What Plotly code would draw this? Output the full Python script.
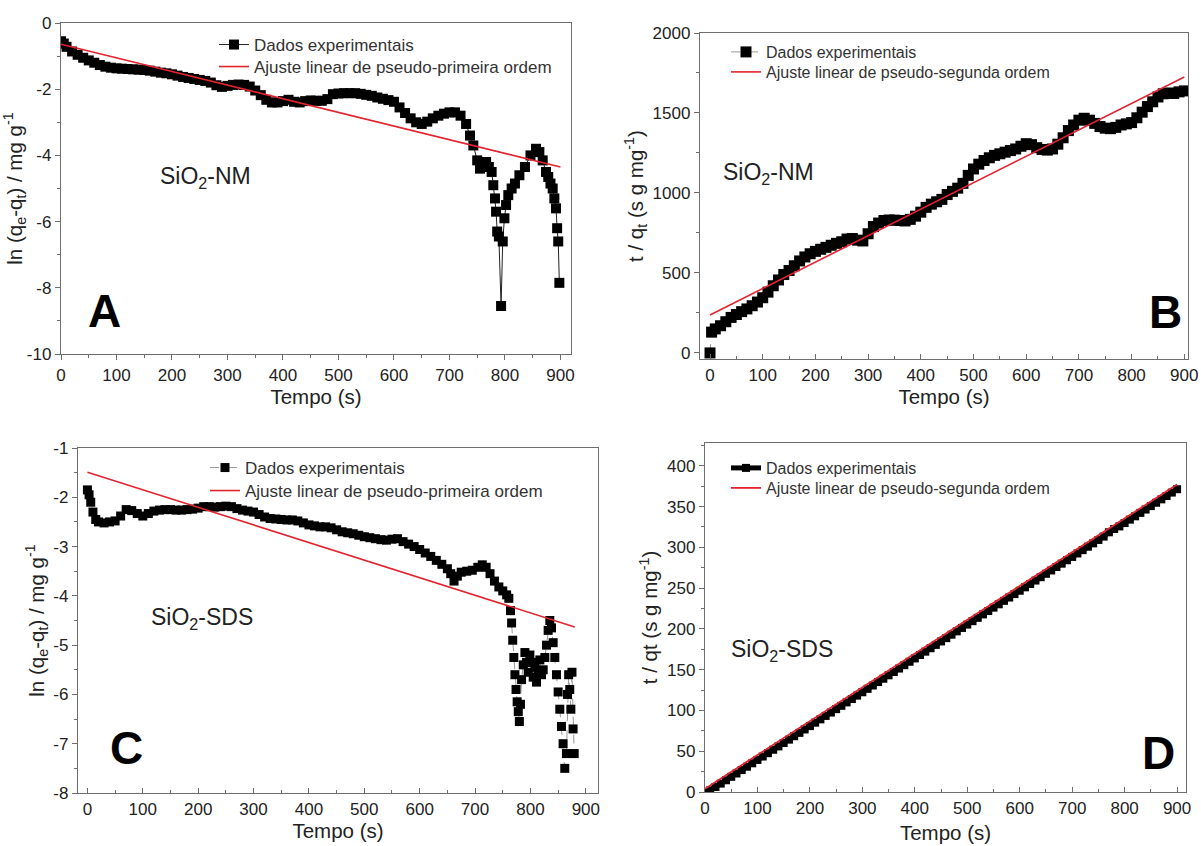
import plotly.graph_objects as go

# ---------------- Panel A : SiO2-NM, pseudo-primeira ordem ----------------
A_t = [0, 5, 10, 20, 30, 40, 50, 60, 70, 80, 90, 100, 110, 120, 130, 140, 150, 160, 170, 180,
       190, 200, 210, 220, 230, 240, 250, 260, 270, 280, 290, 300, 310, 320, 330, 340, 350, 360,
       370, 380, 390, 400, 410, 420, 430, 440, 450, 460, 470, 480, 490, 500, 510, 520, 530, 540,
       550, 560, 570, 580, 590, 600, 610, 620, 630, 640, 650, 660, 670, 680, 690, 700, 710, 720,
       730, 737, 743, 750, 755, 760, 766, 771, 776, 779, 782, 784, 786, 789, 793, 796, 799, 802,
       806, 812, 818, 826, 836, 846, 856, 862, 868, 874, 878, 882, 886, 889, 892, 894, 896, 898]
A_y = [-0.55, -0.62, -0.72, -0.86, -0.96, -1.05, -1.13, -1.2, -1.27, -1.32, -1.35, -1.37, -1.38,
       -1.39, -1.4, -1.41, -1.42, -1.44, -1.47, -1.5, -1.52, -1.55, -1.59, -1.63, -1.66, -1.69,
       -1.72, -1.75, -1.8, -1.88, -1.93, -1.9, -1.87, -1.86, -1.87, -1.92, -2.04, -2.18, -2.32,
       -2.4, -2.4, -2.36, -2.32, -2.38, -2.4, -2.36, -2.34, -2.35, -2.35, -2.3, -2.15, -2.13,
       -2.12, -2.12, -2.12, -2.14, -2.17, -2.2, -2.25, -2.29, -2.33, -2.38, -2.55, -2.72, -2.88,
       -3.0, -3.05, -2.98, -2.88, -2.8, -2.74, -2.7, -2.7, -2.8, -3.05, -3.4, -3.7, -4.15, -4.4,
       -4.3, -4.2, -4.35, -4.5, -4.9, -5.3, -5.7, -6.3, -6.45, -8.55, -6.6, -5.9, -5.5, -5.2,
       -5.0, -4.85, -4.6, -4.35, -4.0, -3.8, -3.9, -4.15, -4.5, -4.65, -4.85, -5.0, -5.3, -5.6,
       -6.2, -6.6, -7.85]
A_fit_t = [0, 900]
A_fit_y = [-0.64, -4.35]

# ---------------- Panel B : SiO2-NM, pseudo-segunda ordem ----------------
B_t = [0, 3, 10, 20, 30, 40, 50, 60, 70, 80, 90, 100, 110, 120, 130, 140, 150, 160, 170, 180,
       190, 200, 210, 220, 230, 240, 250, 260, 270, 280, 290, 300, 310, 320, 330, 340, 350, 360,
       370, 380, 390, 400, 410, 420, 430, 440, 450, 460, 470, 480, 490, 500, 510, 520, 530, 540,
       550, 560, 570, 580, 590, 600, 610, 620, 630, 640, 650, 660, 670, 680, 690, 700, 710, 720,
       730, 740, 750, 760, 770, 780, 790, 800, 810, 820, 830, 840, 850, 860, 870, 880, 890, 900]
B_y = [0, 130, 150, 170, 195, 222, 240, 258, 275, 295, 318, 345, 380, 420, 456, 490, 515, 545,
       575, 600, 620, 635, 648, 660, 673, 685, 695, 712, 715, 705, 700, 745, 790, 812, 828, 831,
       830, 828, 825, 835, 855, 880, 910, 930, 945, 960, 990, 1010, 1030, 1060, 1110, 1150, 1180,
       1203, 1220, 1235, 1245, 1255, 1265, 1275, 1292, 1308, 1302, 1283, 1272, 1268, 1275, 1305,
       1345, 1390, 1425, 1455, 1467, 1455, 1435, 1415, 1405, 1402, 1410, 1425, 1432, 1440, 1470,
       1505, 1540, 1570, 1600, 1620, 1625, 1622, 1632, 1638]
B_fit_t = [0, 900]
B_fit_y = [237, 1725]

# ---------------- Panel C : SiO2-SDS, pseudo-primeira ordem ----------------
C_t = [0, 3, 6, 10, 15, 20, 30, 40, 50, 60, 70, 80, 90, 100, 110, 120, 130, 140, 150, 160, 170,
       180, 190, 200, 210, 220, 230, 240, 250, 260, 270, 280, 290, 300, 310, 320, 330, 340, 350,
       360, 370, 380, 390, 400, 410, 420, 430, 440, 450, 460, 470, 480, 490, 500, 510, 520, 530,
       540, 550, 560, 570, 580, 590, 600, 610, 620, 630, 640, 650, 656, 662, 668, 675, 685, 695,
       705, 713, 720, 727, 735, 743, 750, 757, 761, 764, 766, 768, 770, 772, 774, 776, 778, 780,
       782, 784, 787, 790, 793, 796, 799, 802, 805, 808, 811, 814, 817, 820, 823, 826, 829, 832,
       835, 838, 841, 844, 847, 850, 853, 856, 859, 862, 865, 867, 869, 871, 873, 875, 877, 879]
C_y = [-1.85, -1.95, -2.1, -2.3, -2.45, -2.5, -2.52, -2.5, -2.48, -2.38, -2.25, -2.27, -2.33,
       -2.38, -2.33, -2.28, -2.26, -2.25, -2.25, -2.26, -2.26, -2.25, -2.24, -2.22, -2.19, -2.19,
       -2.2, -2.19, -2.18, -2.19, -2.23, -2.26, -2.28, -2.3, -2.35, -2.4, -2.43, -2.44, -2.45,
       -2.46, -2.46, -2.48, -2.52, -2.56, -2.58, -2.6, -2.6, -2.62, -2.66, -2.7, -2.72, -2.74,
       -2.77, -2.8, -2.82, -2.84, -2.86, -2.87, -2.85, -2.84, -2.9, -2.95, -3.0, -3.06, -3.13,
       -3.2, -3.28, -3.36, -3.45, -3.55, -3.7, -3.6, -3.52, -3.5, -3.48, -3.42, -3.37, -3.42,
       -3.55, -3.7, -3.82, -3.9, -3.98, -4.05, -4.3, -4.55, -4.9, -5.25, -5.6, -5.9, -6.15, -6.35,
       -6.55, -6.2, -5.7, -5.4, -5.15, -5.35, -5.55, -5.2, -5.35, -5.65, -5.45, -5.75, -5.55,
       -5.3, -5.6, -5.5, -5.25, -5.0, -4.7, -4.5, -4.65, -4.95, -5.25, -5.6, -5.95, -6.3, -6.65,
       -7.0, -7.5, -7.2, -6.0, -5.6, -5.9, -6.3, -5.55, -6.7, -7.2]
C_fit_t = [0, 880]
C_fit_y = [-1.49, -4.63]

# ---------------- Panel D : SiO2-SDS, pseudo-segunda ordem ----------------
D_t = [5, 10, 20, 30, 40, 50, 60, 70, 80, 90, 100, 110, 120, 130, 140, 150, 160, 170, 180, 190,
       200, 210, 220, 230, 240, 250, 260, 270, 280, 290, 300, 310, 320, 330, 340, 350, 360, 370,
       380, 390, 400, 410, 420, 430, 440, 450, 460, 470, 480, 490, 500, 510, 520, 530, 540, 550,
       560, 570, 580, 590, 600, 610, 620, 630, 640, 650, 660, 670, 680, 690, 700, 710, 720, 730,
       740, 750, 760, 770, 780, 790, 800, 810, 820, 830, 840, 850, 860, 870, 880, 890, 900]
D_y = [0.0, 2.0, 6.1, 10.3, 14.4, 18.6, 22.7, 26.9, 31.0, 35.2, 39.3, 43.5, 47.6, 51.8, 55.9,
       60.1, 64.2, 68.4, 72.5, 76.7, 80.8, 85.0, 89.1, 93.3, 97.4, 101.6, 105.7, 109.9, 114.0,
       118.2, 122.3, 126.5, 130.6, 134.8, 138.9, 143.1, 147.2, 151.4, 155.5, 159.7, 163.8, 168.0,
       172.1, 176.3, 180.4, 184.6, 188.7, 192.9, 197.0, 201.2, 205.3, 209.5, 213.6, 217.8, 221.9,
       226.1, 230.2, 234.4, 238.5, 242.7, 246.8, 251.0, 255.1, 259.3, 263.4, 267.6, 271.7, 275.9,
       280.0, 284.2, 288.3, 292.5, 296.6, 300.8, 304.9, 309.1, 313.2, 318.5, 322.5, 325.7, 329.8,
       334.0, 338.1, 342.3, 346.4, 350.6, 354.7, 358.9, 363.0, 367.2, 371.3]
D_fit_t = [0, 900]
D_fit_y = [4, 377]

# ---------------- tick labels / texts ----------------
x_ticks = [0, 100, 200, 300, 400, 500, 600, 700, 800, 900]
x_ticktext = ["0", "100", "200", "300", "400", "500", "600", "700", "800", "900"]
A_yticks = [0, -2, -4, -6, -8, -10]
A_ytext = ["0", "-2", "-4", "-6", "-8", "-10"]
B_yticks = [0, 500, 1000, 1500, 2000]
B_ytext = ["0", "500", "1000", "1500", "2000"]
C_yticks = [-1, -2, -3, -4, -5, -6, -7, -8]
C_ytext = ["-1", "-2", "-3", "-4", "-5", "-6", "-7", "-8"]
D_yticks = [0, 50, 100, 150, 200, 250, 300, 350, 400]
D_ytext = ["0", "50", "100", "150", "200", "250", "300", "350", "400"]

name_data = "Dados experimentais"
name_fit1 = "Ajuste linear de pseudo-primeira ordem"
name_fit2 = "Ajuste linear de pseudo-segunda ordem"

W, H = 1201, 846
FONT = "Liberation Sans, Arial, sans-serif"
RED = "#e3232f"


def fx(p):
    return p / W


def fy(p):
    return 1 - p / H


fig = go.Figure()

# (x, y, name, line, marker, axis suffix, legend id)
traces = [
    (A_t, A_y, name_data, dict(color="#222", width=1), dict(symbol="square", size=10, color="black"), "", "legend"),
    (A_fit_t, A_fit_y, name_fit1, dict(color=RED, width=1.6), None, "", "legend2"),
    (B_t, B_y, name_data, dict(color="#999", width=1, dash="dash"), dict(symbol="square", size=11, color="black"), "2", "legend3"),
    (B_fit_t, B_fit_y, name_fit2, dict(color=RED, width=1.6), None, "2", "legend4"),
    (C_t, C_y, name_data, dict(color="#999", width=1, dash="dash"), dict(symbol="square", size=9, color="black"), "3", "legend5"),
    (C_fit_t, C_fit_y, name_fit1, dict(color=RED, width=1.6), None, "3", "legend6"),
    (D_t, D_y, name_data, dict(color="black", width=5), dict(symbol="square", size=8, color="black"), "4", "legend7"),
    (D_fit_t, D_fit_y, name_fit2, dict(color=RED, width=1.8), None, "4", "legend8"),
]
for (x, y, nm, ln, mk, sx, lg) in traces:
    fig.add_trace(go.Scatter(x=x, y=y, mode="lines+markers" if mk else "lines", name=nm,
                             line=ln, marker=mk, xaxis="x" + sx, yaxis="y" + sx, legend=lg))

axis_common = dict(showgrid=False, zeroline=False, showline=True, mirror=True,
                   linecolor="#6e6e6e", linewidth=1.3, ticklen=5,
                   tickcolor="#6e6e6e", tickfont=dict(family=FONT, size=17, color="#222"),
                   automargin=False)
title_font = dict(family=FONT, size=20.5, color="#222")

panels = [
    # (x dom px, y dom px, x range, y range, yticks, ytext, y title, y minor, x standoff, x tick side)
    ((61, 571), (23, 354), [0, 919], [-10, 0], A_yticks, A_ytext,
     "ln (q<sub>e</sub>-q<sub>t</sub>) / mg g<sup>-1</sup>", 1, 6, "outside"),
    ((700, 1188), (33, 359), [-19, 907], [-38, 2000], B_yticks, B_ytext,
     "t / q<sub>t</sub> (s g mg<sup>-1</sup>)", 250, 0, "inside"),
    ((78, 598), (448, 793), [-17, 922], [-8, -1], C_yticks, C_ytext,
     "ln (q<sub>e</sub>-q<sub>t</sub>) / mg g<sup>-1</sup>", 0.5, 4, "inside"),
    ((705, 1186), (443, 792), [0, 917], [0, 428], D_yticks, D_ytext,
     "t / qt (s g mg<sup>-1</sup>)", 25, 9, "inside"),
]

layout = dict(width=W, height=H, margin=dict(l=0, r=0, t=0, b=0), autosize=False,
              paper_bgcolor="white", plot_bgcolor="white", template="none",
              font=dict(family=FONT, color="#222"), showlegend=True)

for i, (xd, yd, xr, yr, ytv, ytt, ytitle, yminor, xso, xside) in enumerate(panels, start=1):
    sx = "" if i == 1 else str(i)
    layout["xaxis" + sx] = dict(axis_common, domain=[fx(xd[0]), fx(xd[1])], range=xr,
                                anchor="y" + sx, tickmode="array", tickvals=x_ticks,
                                ticktext=x_ticktext, ticks=xside,
                                minor=dict(dtick=50, tick0=0, ticks=xside, ticklen=3,
                                           tickcolor="#6e6e6e"),
                                title=dict(text="Tempo (s)", font=title_font, standoff=xso))
    layout["yaxis" + sx] = dict(axis_common, domain=[fy(yd[1]), fy(yd[0])], range=yr,
                                anchor="x" + sx, tickmode="array", tickvals=ytv, ticktext=ytt,
                                ticks="outside",
                                minor=dict(dtick=yminor, tick0=0, ticks="outside", ticklen=3,
                                           tickcolor="#6e6e6e"),
                                title=dict(text=ytitle, font=title_font, standoff=3))

leg_common = dict(xanchor="left", yanchor="top", bgcolor="rgba(0,0,0,0)", borderwidth=0)
# (legend id, left px, top px, font size)
legend_pos = [
    ("legend", 214, 27, 17), ("legend2", 214, 49, 17),
    ("legend3", 726, 35, 16), ("legend4", 726, 55, 16),
    ("legend5", 205, 450, 17), ("legend6", 205, 473, 17),
    ("legend7", 726, 451, 16), ("legend8", 726, 471, 16),
]
for (lid, lx, ly, fs) in legend_pos:
    layout[lid] = dict(leg_common, x=fx(lx), y=fy(ly), font=dict(family=FONT, size=fs, color="#333"))

annots = [
    ("SiO<sub>2</sub>-NM", 205, 177, 23, False),
    ("SiO<sub>2</sub>-NM", 768, 173, 23, False),
    ("SiO<sub>2</sub>-SDS", 202, 618, 23, False),
    ("SiO<sub>2</sub>-SDS", 782, 650, 23, False),
    ("A", 104, 311, 46, True),
    ("B", 1165, 312, 46, True),
    ("C", 126, 748, 46, True),
    ("D", 1158, 753, 46, True),
]
layout["annotations"] = [
    dict(text=("<b>%s</b>" % t) if bold else t, x=fx(x), y=fy(y), xref="paper", yref="paper",
         showarrow=False, xanchor="center", yanchor="middle",
         font=dict(family=FONT, size=s, color="black" if bold else "#222"))
    for (t, x, y, s, bold) in annots
]

fig.update_layout(**layout)
fig.write_html("out.html")
